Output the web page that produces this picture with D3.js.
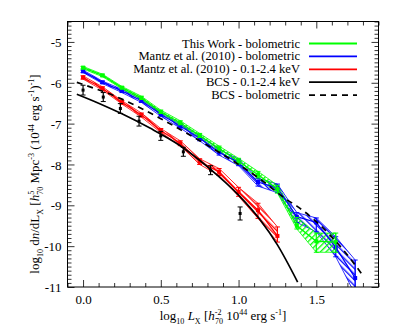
<!DOCTYPE html>
<html><head><meta charset="utf-8">
<script src="https://cdn.jsdelivr.net/npm/d3@7"></script>
<style>
body{margin:0;background:#fff}
svg text{font-family:"Liberation Serif","Times New Roman",serif !important;white-space:pre;fill:#000}
</style>
</head><body>
<svg id="chart" width="399" height="332"></svg>
<script>
// ---------- data ----------
const binX = [0, 0.125, 0.25, 0.375, 0.5, 0.625, 0.75, 0.875, 1.0, 1.125, 1.25, 1.375, 1.5, 1.625, 1.75];

// This Work - bolometric (green)
const greenY   = [-5.63, -5.82, -6.12, -6.37, -6.71, -6.98, -7.29, -7.61, -7.92, -8.25, -8.60, -9.50, -9.88, -9.90];
const greenHi  = [0.03, 0.03, 0.03, 0.04, 0.04, 0.05, 0.05, 0.06, 0.07, 0.08, 0.09, 0.20, 0.20, 0.22];
const greenLo  = [0.03, 0.03, 0.03, 0.04, 0.04, 0.05, 0.05, 0.06, 0.07, 0.08, 0.10, 0.08, 0.27, 0.25];

// Mantz et al. (2010) - bolometric (blue)
const blueY    = [-5.72, -5.99, -6.20, -6.44, -6.77, -7.06, -7.36, -7.70, -7.95, -8.43, -8.58, -9.28, -9.42, -10.03, -10.78];
const blueHi   = [0.03, 0.03, 0.04, 0.04, 0.05, 0.05, 0.06, 0.07, 0.08, 0.09, 0.10, 0.10, 0.11, 0.26, 0.44];
const blueLo   = [0.03, 0.03, 0.04, 0.04, 0.05, 0.05, 0.06, 0.07, 0.08, 0.10, 0.11, 0.14, 0.23, 0.23, 0.40];

// Mantz et al. (2010) - 0.1-2.4 keV (red)
const redY     = [-5.87, -6.14, -6.48, -6.79, -7.17, -7.48, -7.93, -8.18, -8.67, -9.12, -9.75];
const redHi    = [0.04, 0.04, 0.04, 0.05, 0.05, 0.06, 0.07, 0.08, 0.11, 0.17, 0.22];
const redLo    = [0.04, 0.04, 0.04, 0.05, 0.05, 0.06, 0.07, 0.09, 0.11, 0.20, 0.15];

// BCS data points (black)
const bcsX     = [0, 0.13, 0.24, 0.36, 0.50, 0.645, 0.82, 1.01];
const bcsY     = [-6.18, -6.35, -6.63, -6.94, -7.30, -7.69, -8.14, -9.20];
const bcsErr   = [0.12, 0.11, 0.12, 0.12, 0.11, 0.11, 0.11, 0.16];

// BCS - 0.1-2.4 keV curve (solid)
const bcsSoftX = [-0.04, 0.10, 0.25, 0.43, 0.62, 0.82, 1.00, 1.14, 1.25, 1.38];
const bcsSoftY = [-6.28, -6.50, -6.76, -7.11, -7.53, -8.12, -8.75, -9.36, -9.97, -10.88];

// BCS - bolometric curve (dashed)
const bcsBolX  = [-0.04, 0.25, 0.50, 0.75, 1.00, 1.14, 1.31, 1.375, 1.50, 1.675, 1.80];
const bcsBolY  = [-5.99, -6.40, -6.88, -7.42, -8.00, -8.36, -8.86, -9.02, -9.40, -10.10, -10.72];

const xMajor = [0, 0.5, 1.0, 1.5];
const yMajor = [-11, -10, -9, -8, -7, -6, -5];

const legendLabels = ["This Work - bolometric", "Mantz et al. (2010) - bolometric",
  "Mantz et al. (2010) - 0.1-2.4 keV", "BCS - 0.1-2.4 keV", "BCS - bolometric"];
const legendColors = ["#00ff00", "#0000ff", "#ff0000", "#000000", "#000000"];
const legendDash   = [null, null, null, null, "6,5"];

// ---------- layout ----------
const svg = d3.select("#chart");
const L = 67.5, R = 378.5, T = 21.5, B = 287;
const x = d3.scaleLinear().domain([-0.1, 1.9]).range([L, R]);
const y = d3.scaleLinear().domain([-11, -4.5]).range([B, T]);
const GREEN = "#00ff00", BLUE = "#0000ff", RED = "#ff0000";

const defs = svg.append("defs");
defs.append("clipPath").attr("id", "plotclip").append("rect")
  .attr("x", L).attr("y", T).attr("width", R - L).attr("height", B - T);

function hatch(id, color, angle) {
  const p = defs.append("pattern").attr("id", id).attr("patternUnits", "userSpaceOnUse")
    .attr("width", 4).attr("height", 4).attr("patternTransform", `rotate(${angle})`);
  p.append("line").attr("x1", 0.7).attr("y1", -1).attr("x2", 0.7).attr("y2", 6)
    .attr("stroke", color).attr("stroke-width", 1.3);
}
hatch("hRed", RED, -45);
hatch("hBlue", BLUE, -45);
hatch("hGreen", GREEN, 45);

const plot = svg.append("g").attr("clip-path", "url(#plotclip)");

function series(ys, hi, lo, color, patId) {
  const pts = ys.map((v, i) => ({x: binX[i], y: v, hi: hi[i], lo: lo[i]}));
  const area = d3.area().x(d => x(d.x)).y0(d => y(d.y - d.lo)).y1(d => y(d.y + d.hi));
  plot.append("path").datum(pts).attr("d", area)
    .attr("fill", `url(#${patId})`).attr("stroke", color).attr("stroke-width", 0.8);
  return pts;
}
function seriesTop(pts, color) {
  const line = d3.line().x(d => x(d.x)).y(d => y(d.y));
  plot.append("path").datum(pts).attr("d", line).attr("fill", "none")
    .attr("stroke", color).attr("stroke-width", 1.3);
  const g = plot.append("g");
  pts.forEach(d => {
    g.append("line").attr("x1", x(d.x)).attr("x2", x(d.x))
      .attr("y1", y(d.y - d.lo)).attr("y2", y(d.y + d.hi)).attr("stroke", color).attr("stroke-width", 1.2);
    [d.y - d.lo, d.y + d.hi].forEach(v => g.append("line")
      .attr("x1", x(d.x) - 2.5).attr("x2", x(d.x) + 2.5).attr("y1", y(v)).attr("y2", y(v))
      .attr("stroke", color).attr("stroke-width", 1));
    g.append("rect").attr("x", x(d.x) - 2).attr("y", y(d.y) - 2)
      .attr("width", 4).attr("height", 4).attr("fill", color);
  });
}
const redPts = series(redY, redHi, redLo, RED, "hRed");
const bluePts = series(blueY, blueHi, blueLo, BLUE, "hBlue");
const greenPts = series(greenY, greenHi, greenLo, GREEN, "hGreen");
seriesTop(redPts, RED);
seriesTop(bluePts, BLUE);
seriesTop(greenPts, GREEN);

// BCS curves
const curve = d3.line().x(d => x(d[0])).y(d => y(d[1])).curve(d3.curveMonotoneX);
plot.append("path").datum(bcsSoftX.map((v, i) => [v, bcsSoftY[i]])).attr("d", curve)
  .attr("fill", "none").attr("stroke", "#000").attr("stroke-width", 1.7);
plot.append("path").datum(bcsBolX.map((v, i) => [v, bcsBolY[i]])).attr("d", curve)
  .attr("fill", "none").attr("stroke", "#000").attr("stroke-width", 1.7).attr("stroke-dasharray", "6,5");

// BCS points
const bg = plot.append("g");
bcsX.forEach((v, i) => {
  const cx = x(v), y0 = y(bcsY[i] - bcsErr[i]), y1 = y(bcsY[i] + bcsErr[i]);
  bg.append("line").attr("x1", cx).attr("x2", cx).attr("y1", y0).attr("y2", y1).attr("stroke", "#000").attr("stroke-width", 1.2);
  [y0, y1].forEach(yy => bg.append("line").attr("x1", cx - 2.5).attr("x2", cx + 2.5)
    .attr("y1", yy).attr("y2", yy).attr("stroke", "#000").attr("stroke-width", 1));
  bg.append("rect").attr("x", cx - 1.5).attr("y", y(bcsY[i]) - 1.5).attr("width", 3).attr("height", 3).attr("fill", "#000");
});

// ---------- axes ----------
const xMinor = d3.range(-0.1, 1.9001, 0.1).map(v => +v.toFixed(2)).filter(v => !xMajor.includes(v));
const yMinor = d3.range(-11, -4.4999, 0.1).map(v => +v.toFixed(2)).filter(v => !yMajor.includes(v));
function ax(gen, scale, vals, size, transform, labels) {
  const a = gen(scale).tickValues(vals).tickSize(-size).tickSizeOuter(0);
  if (labels) a.tickFormat(labels); else a.tickFormat("");
  const g = svg.append("g").attr("transform", transform).call(a);
  g.attr("font-family", null);
  g.select(".domain").remove();
  g.selectAll("line").attr("stroke", "#000").attr("stroke-width", 0.8);
  return g;
}
const fmtX = d => d.toFixed(1);
const fmtY = d => String(d);
const gx = ax(d3.axisBottom, x, xMajor, 7, `translate(0,${B})`, fmtX);
ax(d3.axisBottom, x, xMinor, 4, `translate(0,${B})`);
ax(d3.axisTop, x, xMajor, 7, `translate(0,${T})`);
ax(d3.axisTop, x, xMinor, 4, `translate(0,${T})`);
const gy = ax(d3.axisLeft, y, yMajor, 7, `translate(${L},0)`, fmtY);
ax(d3.axisLeft, y, yMinor, 4, `translate(${L},0)`);
ax(d3.axisRight, y, yMajor, 7, `translate(${R},0)`);
ax(d3.axisRight, y, yMinor, 4, `translate(${R},0)`);
gx.selectAll("text").attr("y", 17).attr("dy", 0).attr("font-size", 13);
gy.selectAll("text").attr("x", -6).attr("dy", "0.35em").attr("font-size", 13);

svg.append("rect").attr("x", L).attr("y", T).attr("width", R - L).attr("height", B - T)
  .attr("fill", "none").attr("stroke", "#000").attr("stroke-width", 1);

// ---------- rich text helper ----------
function rich(t, parts, fs) {
  let cur = 0;
  parts.forEach(([s, kind, dx]) => {
    let off = 0, size = fs, style = "normal";
    if (kind === "sub") { off = 0.28 * fs; size = 0.62 * fs; }
    if (kind === "sup") { off = -0.42 * fs; size = 0.62 * fs; }
    if (kind === "i") style = "italic";
    const ts = t.append("tspan").text(s).attr("font-size", size).attr("font-style", style).attr("dy", off - cur);
    if (dx) ts.attr("dx", dx);
    cur = off;
  });
  if (cur !== 0) t.append("tspan").text("").attr("dy", -cur);
}

// x title
rich(svg.append("text").attr("x", 223).attr("y", 320).attr("text-anchor", "middle"), [
  ["log"], ["10", "sub"], [" "], ["L", "i"], ["X", "sub"], [" ["], ["h", "i"], ["-2", "sup"], ["70", "sub", -6.5],
  [" 10"], ["44", "sup"], [" erg s"], ["-1", "sup"], ["]"]
], 13);

// y title
rich(svg.append("text").attr("transform", "translate(39,174) rotate(-90)").attr("text-anchor", "middle"), [
  ["log"], ["10", "sub"], [" d"], ["n", "i"], ["/dL"], ["X", "sub"], [" ["], ["h", "i"], ["5", "sup"], ["70", "sub", -4],
  [" Mpc"], ["-3", "sup"], [" (10"], ["44", "sup"], [" erg s"], ["-1", "sup"], [")"], ["-1", "sup"], ["]"]
], 13);

// ---------- legend ----------
legendLabels.forEach((lab, i) => {
  const cy = 43.5 + i * 12.9;
  svg.append("text").attr("x", 300).attr("y", cy + 4).attr("text-anchor", "end")
    .attr("font-size", 12.6).text(lab);
  const ln = svg.append("line").attr("x1", 309).attr("x2", 357).attr("y1", cy).attr("y2", cy)
    .attr("stroke", legendColors[i]).attr("stroke-width", 1.8);
  if (legendDash[i]) ln.attr("stroke-dasharray", legendDash[i]);
});
</script>
</body></html>
